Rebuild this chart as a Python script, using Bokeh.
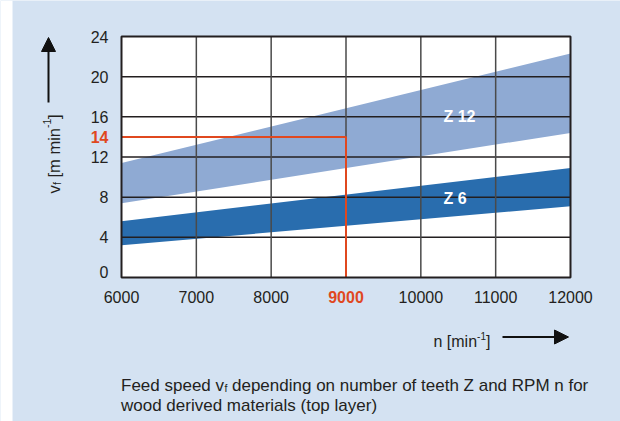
from bokeh.plotting import figure
from bokeh.models import Range1d, Label, Arrow, NormalHead
from bokeh.embed import file_html
from bokeh.resources import INLINE

# ---------------- data ----------------
rpm = [6000, 12000]                 # n [min^-1]
z12_low = [7.4, 14.4]               # v_f lower edge, Z 12
z12_high = [11.4, 22.3]             # v_f upper edge, Z 12
z6_low = [3.2, 7.1]                 # v_f lower edge, Z 6
z6_high = [5.6, 10.9]               # v_f upper edge, Z 6
x_ticks = [6000, 7000, 8000, 10000, 11000, 12000]
x_grid = [7000, 8000, 9000, 10000, 11000]
y_ticks = [0, 4, 8, 12, 16, 20, 24]
y_grid = [4, 8, 12, 16, 20]
example_n = 9000
example_vf = 14
band_names = ["Z 12", "Z 6"]
band_label_pos = [(10300, 16.0), (10300, 7.9)]

XMIN, XMAX, YMIN, YMAX = 6000, 12000, 0, 24

# ---------------- layout (page pixels) ----------------
W, H = 620, 421
FL, FR, FT, FB = 121, 570, 36, 277   # plot box edges on the page
SX = (XMAX - XMIN) / (FR - FL)
SY = (YMAX - YMIN) / (FB - FT)


def dx(px):
    return XMIN + (px - FL) * SX


def dy(py):
    return YMIN + (FB - py) * SY


def py_of(v):
    return FB - (v - YMIN) / SY


BG = "#d4e2f2"
INK = "#231f20"
RED = "#e0481f"
FONT = "Liberation Sans"

p = figure(width=W, height=H, output_backend="svg", toolbar_location=None,
           x_range=Range1d(dx(0), dx(W)), y_range=Range1d(dy(H), dy(0)),
           min_border=0)
p.border_fill_color = BG
p.background_fill_color = BG
p.outline_line_color = None
p.axis.visible = False
p.grid.visible = False

# white margin strip on the left
p.quad(left=dx(0), right=dx(12), bottom=dy(H), top=dy(0), fill_color="white", line_color=None)

# plot box
p.quad(left=XMIN, right=XMAX, bottom=YMIN, top=YMAX, fill_color="white", line_color=None)

# bands
p.varea(x=rpm, y1=z12_low, y2=z12_high, fill_color="#8faad3")
p.varea(x=rpm, y1=z6_low, y2=z6_high, fill_color="#296dae")

# grid lines on top of the bands
p.segment(x0=[XMIN] * len(y_grid), x1=[XMAX] * len(y_grid), y0=y_grid, y1=y_grid,
          line_color=INK, line_width=1.5)
p.segment(x0=x_grid, x1=x_grid, y0=[YMIN] * len(x_grid), y1=[YMAX] * len(x_grid),
          line_color="#4a4a4a", line_width=1.5)

# example reading
p.line(x=[XMIN, example_n, example_n], y=[example_vf, example_vf, YMIN],
       line_color=RED, line_width=2)

# frame
p.quad(left=XMIN, right=XMAX, bottom=YMIN, top=YMAX, fill_color=None,
       line_color=INK, line_width=2)


def lab(x, y, text, size="16px", angle=0, color=INK, align="left",
        baseline="alphabetic", style="normal"):
    p.add_layout(Label(x=x, y=y, text=text, angle=angle, angle_units="deg",
                       text_align=align, text_baseline=baseline, text_color=color,
                       text_font=FONT, text_font_size=size, text_font_style=style))


# y tick labels
for t in y_ticks:
    yy = t if t != YMIN else dy(py_of(t) - 6)
    lab(dx(108), yy, str(t), align="right", baseline="middle")
lab(dx(108), example_vf, str(example_vf), align="right", baseline="middle",
    color=RED, style="bold")

# x tick labels
for t in x_ticks:
    lab(t, dy(296.5), str(t), align="center", baseline="middle")
lab(example_n, dy(296.5), str(example_n), align="center", baseline="middle",
    color=RED, style="bold")

# band labels
for name, (bx, by) in zip(band_names, band_label_pos):
    lab(dx(443), by, name, size="16px", color="white", baseline="middle", style="bold")

# y axis title (rotated), with subscript/superscript pieces
bx = 53
lab(dx(bx), dy(193), "v", size="16.5px", angle=90)
lab(dx(bx + 3), dy(184.5), "f", size="10.5px", angle=90)
lab(dx(bx), dy(177), "[m min", size="16.5px", angle=90)
lab(dx(bx - 6.5), dy(127.5), "-1", size="10.5px", angle=90)
lab(dx(bx), dy(118.5), "]", size="16.5px", angle=90)

# x axis title
lab(dx(433), dy(341), "n [min")
lab(dx(476.6), dy(335), "-1", size="10px")
lab(dx(485.5), dy(341), "]")

# arrows
head = dict(size=14, fill_color="#111111", line_color="#111111")
p.add_layout(Arrow(x_start=dx(48), y_start=dy(102), x_end=dx(48), y_end=dy(37),
                   line_color="#111111", line_width=2, end=NormalHead(**head)))
p.add_layout(Arrow(x_start=dx(502), y_start=dy(336.5), x_end=dx(568), y_end=dy(336.5),
                   line_color="#111111", line_width=2, end=NormalHead(**head)))

# caption
cs = "17px"
lab(dx(120.5), dy(384.5), "Feed speed v", size=cs)
lab(dx(224), dy(387.5), "f", size="10.5px")
lab(dx(231.5), dy(384.5), "depending on number of teeth Z and RPM n for", size=cs)
lab(dx(120.5), dy(405), "wood derived materials (top layer)", size=cs)

open("out.html", "w").write(file_html(p, INLINE))
